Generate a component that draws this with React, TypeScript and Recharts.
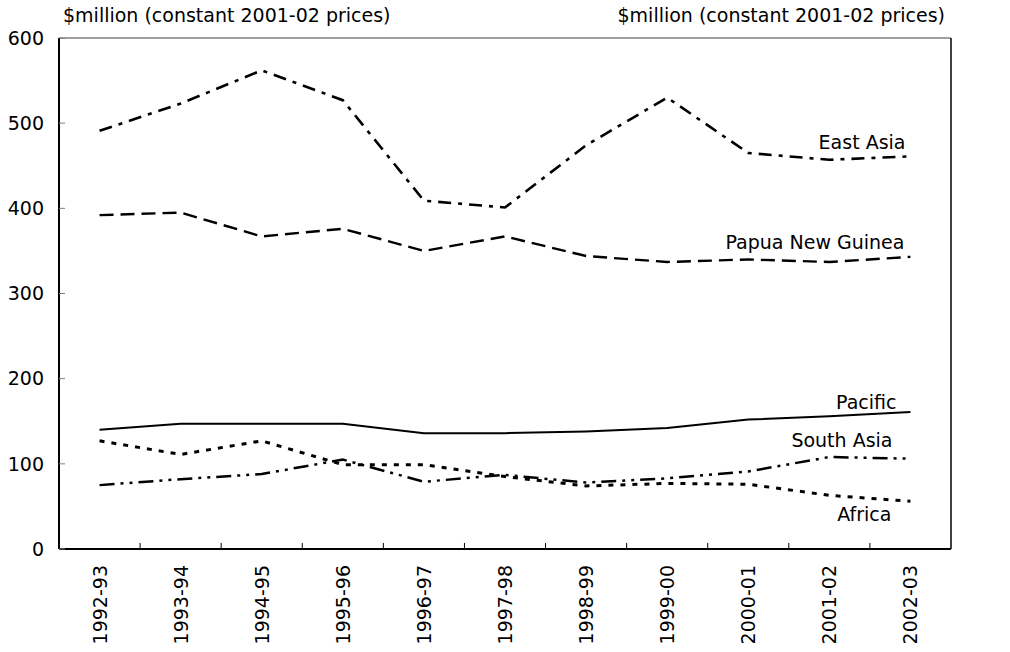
import React from "react";
import { LineChart, Line, XAxis, YAxis, ReferenceLine, Label } from "recharts";

const years = ["1992-93", "1993-94", "1994-95", "1995-96", "1996-97", "1997-98", "1998-99", "1999-00", "2000-01", "2001-02", "2002-03"];
const eastAsia = [491, 523, 562, 527, 409, 401, 474, 530, 465, 457, 461];
const papuaNewGuinea = [392, 395, 367, 376, 350, 367, 344, 337, 340, 337, 343];
const pacific = [140, 147, 147, 147, 136, 136, 138, 142, 152, 156, 161];
const southAsia = [75, 82, 88, 105, 79, 87, 78, 83, 91, 108, 106];
const africa = [127, 111, 127, 99, 99, 85, 74, 77, 76, 63, 56];
const yTicks = [0, 100, 200, 300, 400, 500, 600];
const unitTitle = "$million (constant 2001-02 prices)";

const data = years.map((year, i) => ({
  year,
  eastAsia: eastAsia[i],
  png: papuaNewGuinea[i],
  pacific: pacific[i],
  southAsia: southAsia[i],
  africa: africa[i],
}));

const FONT = "'DejaVu Sans', Verdana, sans-serif";
const FS = 19;
const last = years.length - 1;

const YearTick = (props: any) => {
  const { x, y, payload } = props;
  const edge = payload.coordinate + (payload.offset ?? 0);
  return (
    <g>
      {payload.index < last && payload.offset != null && (
        <line x1={edge} x2={edge} y1={y - 16} y2={y - 22} stroke="#000" strokeWidth={1} />
      )}
      <text
        x={x}
        y={y}
        transform={`rotate(-90, ${x}, ${y})`}
        textAnchor="end"
        dominantBaseline="central"
        fontSize={FS}
        fontFamily={FONT}
        fill="#000"
      >
        {payload.value}
      </text>
    </g>
  );
};

const endLabel = (name: string, dx: number, dy: number) => (p: any) =>
  p.index === last ? (
    <text x={p.x + dx} y={p.y + dy} textAnchor="end" dominantBaseline="central" fontSize={FS} fontFamily={FONT} fill="#000">
      {name}
    </text>
  ) : null;

export default function App() {
  return (
    <div style={{ position: "absolute", left: 0, top: 0, width: 1010, height: 652, background: "#fff" }}>
      <LineChart width={1010} height={652} data={data} margin={{ top: 38, right: 0, bottom: 0, left: 0 }}>
        <XAxis
          dataKey="year"
          scale="band"
          interval={0}
          height={103}
          tickSize={0}
          tickMargin={16}
          tickLine={false}
          axisLine={{ stroke: "#000", strokeWidth: 2 }}
          tick={<YearTick />}
        />
        <YAxis
          yAxisId="left"
          width={59}
          domain={[0, 600]}
          ticks={yTicks}
          tickSize={-6}
          tickMargin={21}
          tickLine={{ stroke: "#808080" }}
          axisLine={{ stroke: "#000", strokeWidth: 2 }}
          tick={{ fontSize: FS, fontFamily: FONT, fill: "#000" }}
        >
          <Label
            content={({ viewBox }: any) => (
              <text x={viewBox.x + viewBox.width + 4} y={viewBox.y - 16} textAnchor="start" fontSize={FS} fontFamily={FONT} fill="#000">
                {unitTitle}
              </text>
            )}
          />
        </YAxis>
        <YAxis
          yAxisId="right"
          orientation="right"
          width={59}
          domain={[0, 600]}
          ticks={yTicks}
          tickSize={-6}
          tickMargin={13}
          tickLine={{ stroke: "#808080" }}
          axisLine={{ stroke: "#000", strokeWidth: 1.5 }}
          tick={{ fontSize: FS, fontFamily: FONT, fill: "#000" }}
        >
          <Label
            content={({ viewBox }: any) => (
              <text x={viewBox.x - 6} y={viewBox.y - 16} textAnchor="end" fontSize={FS} fontFamily={FONT} fill="#000">
                {unitTitle}
              </text>
            )}
          />
        </YAxis>
        <ReferenceLine yAxisId="left" y={600} stroke="#808080" strokeWidth={1.5} />
        <Line
          yAxisId="left"
          type="linear"
          dataKey="eastAsia"
          stroke="#000"
          strokeWidth={2.6}
          strokeDasharray="13 7 4 7"
          dot={false}
          isAnimationActive={false}
          label={endLabel("East Asia", -5, -14)}
        />
        <Line
          yAxisId="left"
          type="linear"
          dataKey="png"
          stroke="#000"
          strokeWidth={2.4}
          strokeDasharray="14 7"
          dot={false}
          isAnimationActive={false}
          label={endLabel("Papua New Guinea", -6, -15)}
        />
        <Line
          yAxisId="left"
          type="linear"
          dataKey="pacific"
          stroke="#000"
          strokeWidth={2}
          dot={false}
          isAnimationActive={false}
          label={endLabel("Pacific", -14, -10)}
        />
        <Line
          yAxisId="left"
          type="linear"
          dataKey="southAsia"
          stroke="#000"
          strokeWidth={2.5}
          strokeDasharray="15 6 3 6 3 6"
          dot={false}
          isAnimationActive={false}
          label={endLabel("South Asia", -18, -19)}
        />
        <Line
          yAxisId="left"
          type="linear"
          dataKey="africa"
          stroke="#000"
          strokeWidth={3}
          strokeDasharray="5 7"
          dot={false}
          isAnimationActive={false}
          label={endLabel("Africa", -19, 13)}
        />
      </LineChart>
    </div>
  );
}
